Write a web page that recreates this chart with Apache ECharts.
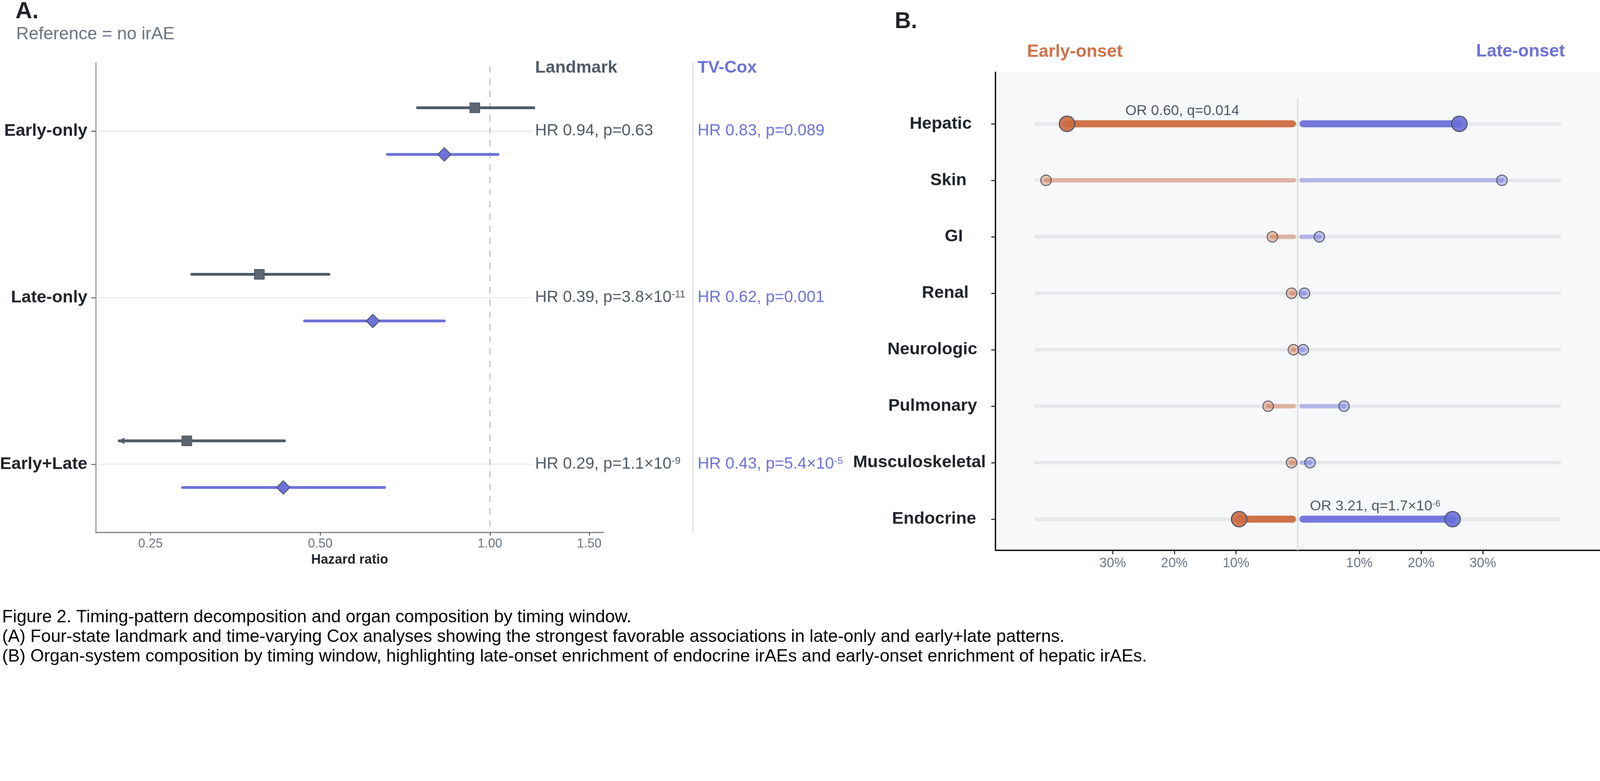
<!DOCTYPE html>
<html>
<head>
<meta charset="utf-8">
<title>Figure 2</title>
<script src="https://cdn.jsdelivr.net/npm/echarts@6.0.0/dist/echarts.min.js"></script>
<style>
  html, body { margin: 0; padding: 0; background: #fff; overflow: hidden; }
  #wrap { position: relative; overflow: hidden; }
  #main { width: 4560px; height: 2000px; transform-origin: 0 0; }
</style>
</head>
<body>
<div id="wrap"><div id="main"></div></div>
<script>
// ---- Panel A: timing pattern vs survival (reference = no irAE)
var patterns = ['Early-only', 'Late-only', 'Early+Late'];
var lmHR = [0.94, 0.39, 0.29];
var lmLo = [0.744, 0.296, 0.22];
var lmHi = [1.196, 0.518, 0.432];
var lmClipped = [false, false, true];   // lower CI runs off the axis -> arrow
var tvHR = [0.83, 0.62, 0.43];
var tvLo = [0.658, 0.469, 0.285];
var tvHi = [1.033, 0.830, 0.650];
var lmText = [['HR 0.94, p=0.63', ''], ['HR 0.39, p=3.8×10', '-11'], ['HR 0.29, p=1.1×10', '-9']];
var tvText = [['HR 0.83, p=0.089', ''], ['HR 0.62, p=0.001', ''], ['HR 0.43, p=5.4×10', '-5']];
var hrTicks = [0.25, 0.5, 1, 1.5];

// ---- Panel B: organ composition by timing window (%)
var organs = ['Hepatic', 'Skin', 'GI', 'Renal', 'Neurologic', 'Pulmonary', 'Musculoskeletal', 'Endocrine'];
var earlyPct = [37.4, 40.8, 4.1, 1.0, 0.7, 4.8, 1.0, 9.5];
var latePct = [26.2, 33.1, 3.5, 1.1, 0.9, 7.5, 2.0, 25.1];
var organSig = [true, false, false, false, false, false, false, true];
var orText = [['OR 0.60, q=0.014', ''], null, null, null, null, null, null, ['OR 3.21, q=1.7×10', '-6']];
var pctTicks = [-30, -20, -10, 10, 20, 30];

var FONT = '"Liberation Sans", Arial, Helvetica, sans-serif';
var INK = '#1f2329', GRAY = '#6b7480', SLATE = '#4f5a66', VIOLET = '#6c71d8', ORANGE = '#cf7249', BLUE = '#7479dc';
var DODGE = 0.14;
var TRACK_HALF = 42.4;
var LM_COL = 1525, TV_COL = 1988;

// fit the 4560x2000 figure into whatever viewport we get
var W = 4560, H = 2000;
var fit = Math.min(1, window.innerWidth / W);
var mainEl = document.getElementById('main');
var wrapEl = document.getElementById('wrap');
wrapEl.style.width = (W * fit) + 'px';
wrapEl.style.height = (H * fit) + 'px';
if (fit < 1) mainEl.style.transform = 'scale(' + fit + ')';

function L2(v) { return Math.log(v) / Math.LN2; }

var measureCtx = document.createElement('canvas').getContext('2d');
function textWidth(str, font) { measureCtx.font = font; return measureCtx.measureText(str).width; }

function richText(parts) {
  return '{t|' + parts[0] + '}' + (parts[1] ? '{s|' + parts[1] + '}' : '');
}
function richStyle(color, size) {
  return {
    t: { fontSize: size, fontFamily: FONT, fill: color, lineHeight: size },
    s: { fontSize: Math.round(size * 0.64), fontFamily: FONT, fill: color, verticalAlign: 'top', lineHeight: Math.round(size * 0.64) }
  };
}
function seg(a, b, color, width, extra) {
  var st = { stroke: color, lineWidth: width, lineCap: 'round' };
  if (extra) { for (var k in extra) st[k] = extra[k]; }
  return { type: 'line', shape: { x1: a[0], y1: a[1], x2: b[0], y2: b[1] }, style: st };
}

var ciData = [];
patterns.forEach(function (p, i) {
  ciData.push({ value: [L2(lmLo[i]), L2(lmHi[i]), i - DODGE, lmClipped[i] ? 1 : 0], itemStyle: { color: SLATE } });
  ciData.push({ value: [L2(tvLo[i]), L2(tvHi[i]), i + DODGE, 0], itemStyle: { color: VIOLET } });
});

var chart = echarts.init(mainEl, null, { width: W, height: H });

var option = {
  animation: false,
  backgroundColor: '#fff',
  textStyle: { fontFamily: FONT },
  grid: [
    { left: 273, top: 179, width: 1447, height: 1339, outerBoundsMode: 'none' },
    { left: 2837, top: 206, width: 1723, height: 1363, outerBoundsMode: 'none',
      show: true, backgroundColor: '#f7f8fa', borderWidth: 0 }
  ],
  xAxis: [
    {
      type: 'value', gridIndex: 0, min: L2(0.2), max: L2(1.59),
      axisLine: { show: true, onZero: false, lineStyle: { color: '#8b9298', width: 4 } },
      axisTick: { show: true, customValues: hrTicks.map(L2), length: 9, lineStyle: { color: '#333', width: 2 } },
      axisLabel: {
        customValues: hrTicks.map(L2), margin: 15, fontSize: 36, color: GRAY, fontFamily: FONT,
        formatter: function (v) { return Math.pow(2, v).toFixed(2); }
      },
      splitLine: { show: false },
      name: 'Hazard ratio', nameLocation: 'middle', nameGap: 60,
      nameTextStyle: { fontSize: 38, fontWeight: 'bold', color: INK, fontFamily: FONT }
    },
    {
      type: 'value', gridIndex: 1, min: -49, max: 49,
      axisLine: { show: true, onZero: false, lineStyle: { color: '#111', width: 4 } },
      axisTick: { show: true, customValues: pctTicks, length: 11, lineStyle: { color: '#222', width: 3 } },
      axisLabel: {
        customValues: pctTicks, margin: 19, fontSize: 38, color: GRAY, fontFamily: FONT,
        formatter: function (v) { return Math.abs(Math.round(v)) + '%'; }
      },
      splitLine: { show: false }
    }
  ],
  yAxis: [
    {
      type: 'value', gridIndex: 0, inverse: true, min: -0.41, max: 2.41,
      axisLine: { show: true, onZero: false, lineStyle: { color: '#8b9298', width: 3 } },
      axisTick: { show: true, customValues: [0, 1, 2], length: 13, lineStyle: { color: '#333', width: 2 } },
      axisLabel: {
        customValues: [0, 1, 2], margin: 24, fontSize: 49, fontWeight: 'bold', color: INK, fontFamily: FONT,
        formatter: function (v) { return patterns[Math.round(v)]; }
      },
      splitLine: { show: false }
    },
    {
      type: 'value', gridIndex: 1, inverse: true, min: -0.913, max: 7.553,
      axisLine: { show: true, onZero: false, lineStyle: { color: '#111', width: 4 } },
      axisTick: { show: true, customValues: [0, 1, 2, 3, 4, 5, 6, 7], length: 12, lineStyle: { color: '#222', width: 3 } },
      axisLabel: { show: false },
      splitLine: { show: false }
    }
  ],
  series: [
    // A: horizontal guides at each pattern, stopping short of the text column
    {
      type: 'custom', xAxisIndex: 0, yAxisIndex: 0, z: 1,
      data: patterns.map(function (p, i) { return [L2(0.2), i]; }),
      encode: { x: 0, y: 1 },
      renderItem: function (params, api) {
        var a = api.coord([api.value(0), api.value(1)]);
        return seg(a, [LM_COL - 7, a[1]], '#dedfe2', 2, { lineCap: 'butt' });
      }
    },
    // A: null line HR = 1
    {
      type: 'custom', xAxisIndex: 0, yAxisIndex: 0, z: 2,
      data: [[0, -0.39, 2.41]],
      encode: { x: 0, y: [1, 2] },
      renderItem: function (params, api) {
        var a = api.coord([api.value(0), api.value(1)]);
        var b = api.coord([api.value(0), api.value(2)]);
        return seg(a, b, '#c8c9cc', 4, { lineCap: 'butt', lineDash: [18, 17] });
      }
    },
    // A: confidence intervals
    {
      type: 'custom', xAxisIndex: 0, yAxisIndex: 0, z: 3,
      data: ciData,
      encode: { x: [0, 1], y: 2 },
      renderItem: function (params, api) {
        var a = api.coord([api.value(0), api.value(2)]);
        var b = api.coord([api.value(1), api.value(2)]);
        var color = api.visual('color');
        var kids = [seg(a, b, color, 8)];
        if (api.value(3)) {
          kids.push({ type: 'polygon', shape: { points: [[a[0] - 2, a[1]], [a[0] + 15, a[1] - 9], [a[0] + 15, a[1] + 9]] }, style: { fill: color } });
        }
        return { type: 'group', children: kids };
      }
    },
    {
      name: 'Landmark', type: 'scatter', xAxisIndex: 0, yAxisIndex: 0, z: 4,
      symbol: 'rect', symbolSize: 28,
      itemStyle: { color: '#5c6772', borderColor: '#4a5562', borderWidth: 2, opacity: 1 },
      data: lmHR.map(function (v, i) { return [L2(v), i - DODGE]; })
    },
    {
      name: 'TV-Cox', type: 'scatter', xAxisIndex: 0, yAxisIndex: 0, z: 4,
      symbol: 'diamond', symbolSize: 38,
      itemStyle: { color: '#6c72da', borderColor: '#4a5363', borderWidth: 2.5, opacity: 1 },
      data: tvHR.map(function (v, i) { return [L2(v), i + DODGE]; })
    },
    // A: HR / p text columns
    {
      type: 'custom', xAxisIndex: 0, yAxisIndex: 0, z: 5,
      data: patterns.map(function (p, i) { return [0, i]; }),
      encode: { x: 0, y: 1 },
      renderItem: function (params, api) {
        var i = params.dataIndex;
        var y = api.coord([0, api.value(1)])[1];
        return {
          type: 'group', children: [
            { type: 'text', x: LM_COL, y: y, style: { text: richText(lmText[i]), rich: richStyle(SLATE, 46), align: 'left', verticalAlign: 'middle' } },
            { type: 'text', x: TV_COL, y: y, style: { text: richText(tvText[i]), rich: richStyle(VIOLET, 46), align: 'left', verticalAlign: 'middle' } }
          ]
        };
      }
    },

    // B: background tracks
    {
      type: 'custom', xAxisIndex: 1, yAxisIndex: 1, z: 1,
      data: organs.map(function (o, i) { return [-TRACK_HALF, TRACK_HALF, i]; }),
      encode: { x: [0, 1], y: 2 },
      renderItem: function (params, api) {
        var a = api.coord([api.value(0), api.value(2)]);
        var b = api.coord([api.value(1), api.value(2)]);
        return seg(a, b, '#e6e8eb', 10);
      }
    },
    // B: centre line
    {
      type: 'custom', xAxisIndex: 1, yAxisIndex: 1, z: 2,
      data: [[0, -0.45, 7.553]],
      encode: { x: 0, y: [1, 2] },
      renderItem: function (params, api) {
        var a = api.coord([api.value(0), api.value(1)]);
        var b = api.coord([api.value(0), api.value(2)]);
        return seg(a, b, '#dcdfe3', 4, { lineCap: 'butt' });
      }
    },
    // B: bars from centre to each share
    {
      type: 'custom', xAxisIndex: 1, yAxisIndex: 1, z: 3,
      data: organs.map(function (o, i) { return [-earlyPct[i], latePct[i], i]; }),
      encode: { x: [0, 1], y: 2 },
      renderItem: function (params, api) {
        var i = params.dataIndex;
        var sig = organSig[i];
        var w = sig ? 20 : 13;
        var op = sig ? 1 : 0.45;
        var c = api.coord([0, api.value(2)]);
        var e = api.coord([api.value(0), api.value(2)]);
        var l = api.coord([api.value(1), api.value(2)]);
        var gap = 5 + w / 2;
        var kids = [];
        if (e[0] < c[0] - gap) kids.push(seg([c[0] - gap, c[1]], e, ORANGE, w, { opacity: op }));
        if (l[0] > c[0] + gap) kids.push(seg([c[0] + gap, c[1]], l, BLUE, w, { opacity: op }));
        return { type: 'group', children: kids };
      }
    },
    {
      name: 'Early-onset', type: 'scatter', xAxisIndex: 1, yAxisIndex: 1, z: 4,
      data: earlyPct.map(function (v, i) {
        return {
          value: [-v, i], symbolSize: organSig[i] ? 44 : 30,
          itemStyle: { color: organSig[i] ? 'rgba(204,106,66,0.9)' : 'rgba(207,114,73,0.4)', borderColor: '#4a5262', borderWidth: organSig[i] ? 3 : 2.5, opacity: 1 }
        };
      })
    },
    {
      name: 'Late-onset', type: 'scatter', xAxisIndex: 1, yAxisIndex: 1, z: 4,
      data: latePct.map(function (v, i) {
        return {
          value: [v, i], symbolSize: organSig[i] ? 44 : 30,
          itemStyle: { color: organSig[i] ? 'rgba(105,111,216,0.9)' : 'rgba(116,121,220,0.4)', borderColor: '#4a5262', borderWidth: organSig[i] ? 3 : 2.5, opacity: 1 }
        };
      })
    },
    // B: OR annotations over the dominant side
    {
      type: 'custom', xAxisIndex: 1, yAxisIndex: 1, z: 5,
      data: organs.map(function (o, i) {
        var x = earlyPct[i] > latePct[i] ? -earlyPct[i] / 2 : latePct[i] / 2;
        return [x, i - 0.224];
      }),
      encode: { x: 0, y: 1 },
      renderItem: function (params, api) {
        var parts = orText[params.dataIndex];
        if (!parts) return null;
        var p = api.coord([api.value(0), api.value(1)]);
        return { type: 'text', x: p[0], y: p[1], style: { text: richText(parts), rich: richStyle('#4e5866', 41), align: 'center', verticalAlign: 'middle' } };
      }
    },
    // B: organ names (anchored like ggplot hjust ~0.8)
    {
      type: 'custom', xAxisIndex: 1, yAxisIndex: 1, z: 5,
      data: organs.map(function (o, i) { return [-49, i]; }),
      encode: { x: 0, y: 1 },
      renderItem: function (params, api) {
        var name = organs[params.dataIndex];
        var p = api.coord([api.value(0), api.value(1)]);
        var w = textWidth(name, 'bold 49px ' + FONT);
        return {
          type: 'text', x: p[0] - 103 + 0.2 * w, y: p[1],
          style: { text: name, fill: INK, fontSize: 49, fontWeight: 'bold', fontFamily: FONT, align: 'right', verticalAlign: 'middle' }
        };
      }
    }
  ],
  graphic: [
    { type: 'text', x: 44, y: 34, style: { text: 'A.', fill: INK, fontSize: 66, fontWeight: 'bold', fontFamily: FONT, verticalAlign: 'middle' } },
    { type: 'text', x: 46, y: 98, style: { text: 'Reference = no irAE', fill: GRAY, fontSize: 50, fontFamily: FONT, verticalAlign: 'middle' } },
    { type: 'text', x: LM_COL, y: 193, style: { text: 'Landmark', fill: SLATE, fontSize: 49, fontWeight: 'bold', fontFamily: FONT, verticalAlign: 'middle' } },
    { type: 'text', x: TV_COL, y: 193, style: { text: 'TV-Cox', fill: VIOLET, fontSize: 49, fontWeight: 'bold', fontFamily: FONT, verticalAlign: 'middle' } },
    { type: 'line', shape: { x1: 1975, y1: 177, x2: 1975, y2: 1518 }, style: { stroke: '#dcdcdc', lineWidth: 3 } },
    { type: 'text', x: 2550, y: 62, style: { text: 'B.', fill: INK, fontSize: 64, fontWeight: 'bold', fontFamily: FONT, verticalAlign: 'middle' } },
    { type: 'text', x: 2927, y: 148, style: { text: 'Early-onset', fill: ORANGE, fontSize: 50, fontWeight: 'bold', fontFamily: FONT, verticalAlign: 'middle' } },
    { type: 'text', x: 4207, y: 147, style: { text: 'Late-onset', fill: VIOLET, fontSize: 50, fontWeight: 'bold', fontFamily: FONT, verticalAlign: 'middle' } },
    { type: 'text', x: 6, y: 1760, style: { text: 'Figure 2. Timing-pattern decomposition and organ composition by timing window.', fill: '#000', fontSize: 50, fontFamily: FONT, verticalAlign: 'middle' } },
    { type: 'text', x: 6, y: 1816, style: { text: '(A) Four-state landmark and time-varying Cox analyses showing the strongest favorable associations in late-only and early+late patterns.', fill: '#000', fontSize: 50, fontFamily: FONT, verticalAlign: 'middle' } },
    { type: 'text', x: 6, y: 1872, style: { text: '(B) Organ-system composition by timing window, highlighting late-onset enrichment of endocrine irAEs and early-onset enrichment of hepatic irAEs.', fill: '#000', fontSize: 50, fontFamily: FONT, verticalAlign: 'middle' } }
  ]
};

chart.setOption(option);
</script>
</body>
</html>
